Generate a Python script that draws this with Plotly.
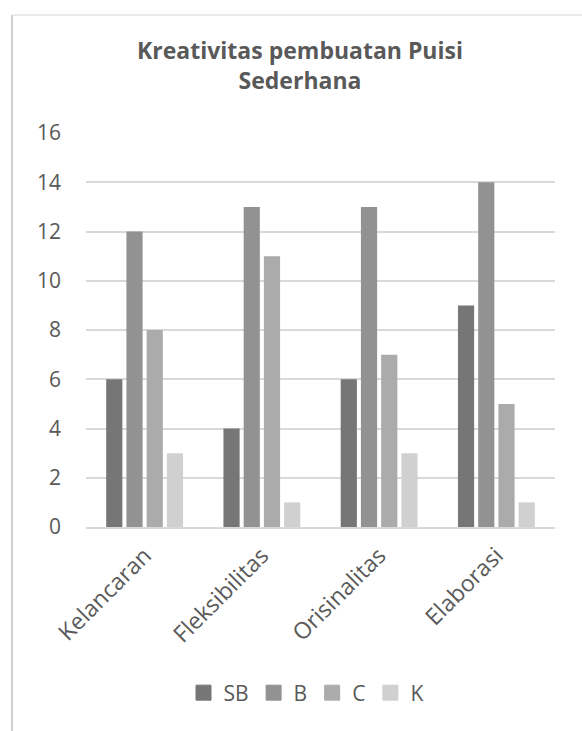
import plotly.graph_objects as go

categories = ["Kelancaran", "Fleksibilitas", "Orisinalitas", "Elaborasi"]
series_names = ["SB", "B", "C", "K"]
sb_values = [6, 4, 6, 9]
b_values = [12, 13, 13, 14]
c_values = [8, 11, 7, 5]
k_values = [3, 1, 3, 1]
y_ticks = [0, 2, 4, 6, 8, 10, 12, 14, 16]

colors = ["#767676", "#929292", "#ababab", "#d0d0d0"]
all_values = [sb_values, b_values, c_values, k_values]

W, H = 582, 731
L, R, T, B = 86, 27, 133, 204
pw, ph = W - L - R, H - T - B

fig = go.Figure()
for name, vals, col in zip(series_names, all_values, colors):
    fig.add_trace(go.Bar(x=categories, y=vals, name=name, marker_color=col,
                         marker_line_width=0, showlegend=False,
                         legendgroup=name))
# legend entries with larger square swatches
for name, col in zip(series_names, colors):
    fig.add_trace(go.Scatter(x=[None], y=[None], mode="markers", name=name,
                             legendgroup=name,
                             marker=dict(symbol="square", size=15, color=col,
                                         line=dict(color=col, width=1))))

font_fam = "Open Sans, Lato, sans-serif"
txt = "#595959"

def px_x(p):
    return (p - L) / pw

def px_y(p):
    return (H - B - p) / ph

fig.update_layout(
    width=W, height=H,
    margin=dict(l=L, r=R, t=T, b=B),
    paper_bgcolor="white", plot_bgcolor="white",
    barmode="group", bargap=0.31, bargroupgap=0.2,
    title=dict(text="<b>Kreativitas pembuatan Puisi<br>Sederhana</b>",
               x=px_x(300), xanchor="center", xref="paper",
               y=1 - 59 / H, yanchor="middle",
               font=dict(family=font_fam, size=23, color=txt)),
    font=dict(family=font_fam, color=txt),
    showlegend=True,
    legend=dict(orientation="h", x=px_x(306), xanchor="center",
                y=px_y(693), yanchor="middle", yref="paper",
                font=dict(size=21, color=txt), itemwidth=30,
                traceorder="normal"),
    xaxis=dict(showgrid=False, tickangle=-45, ticks="",
               tickfont=dict(size=23, color=txt), ticklabelstandoff=4,
               showline=True, linecolor="#d9d9d9", linewidth=2),
    yaxis=dict(range=[0, 16], tickvals=y_ticks, showgrid=True,
               gridcolor="#d9d9d9", gridwidth=2, zeroline=False,
               tickfont=dict(size=21, color=txt), ticks="",
               ticklabelstandoff=24),
    shapes=[
        dict(type="line", xref="paper", yref="paper",
             x0=px_x(12), x1=px_x(12), y0=px_y(15), y1=px_y(H + 5),
             line=dict(color="#cfcfcf", width=2)),
        dict(type="line", xref="paper", yref="paper",
             x0=px_x(12), x1=px_x(W + 5), y0=px_y(15), y1=px_y(15),
             line=dict(color="#d8d8d8", width=1)),
    ],
)

fig.write_html("out.html")
